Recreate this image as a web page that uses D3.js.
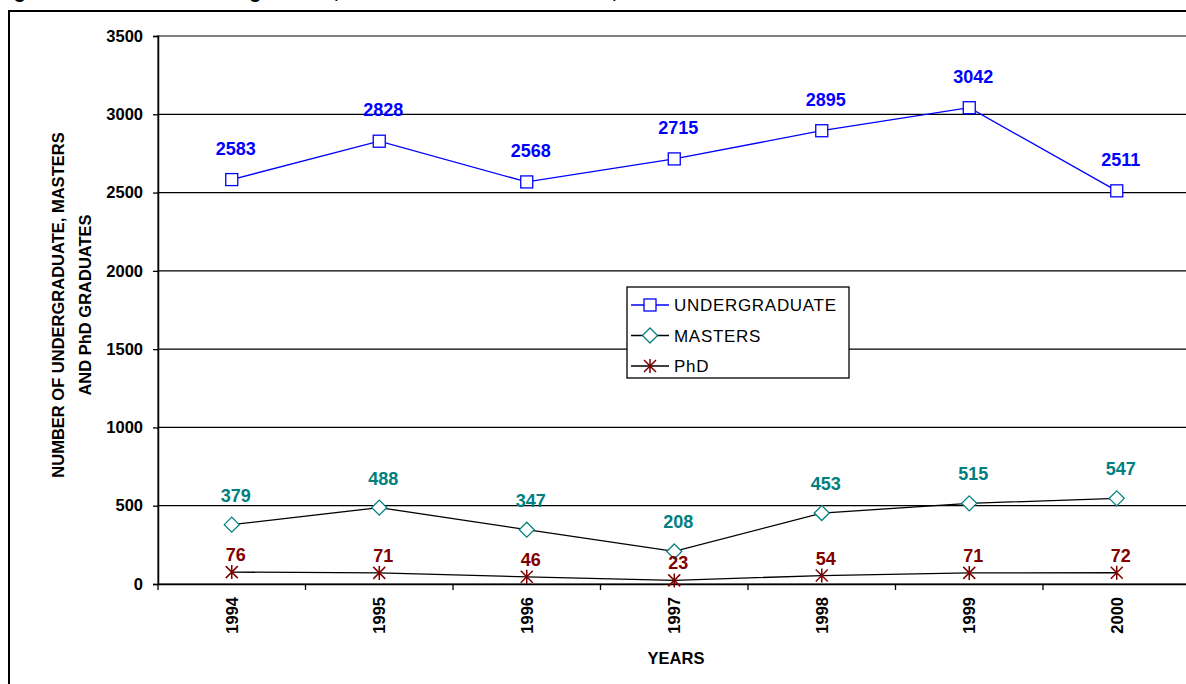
<!DOCTYPE html>
<html>
<head>
<meta charset="utf-8">
<script src="https://cdn.jsdelivr.net/npm/d3@7"></script>
<style>
  html, body { margin: 0; padding: 0; background: #fff; overflow: hidden; }
  svg { display: block; font-family: "Liberation Sans", Arial, sans-serif; }
</style>
</head>
<body>
<div id="chart"></div>
<script>
var years = ['1994', '1995', '1996', '1997', '1998', '1999', '2000'];
var undergrad = [2583, 2828, 2568, 2715, 2895, 3042, 2511];
var masters = [379, 488, 347, 208, 453, 515, 547];
var phd = [76, 71, 46, 23, 54, 71, 72];
var yTicks = [0, 500, 1000, 1500, 2000, 2500, 3000, 3500];

var W = 1186, H = 684;
var plot = {left: 158, right: 1190.5, top: 36, bottom: 584};
var FONT = '"Liberation Sans", Arial, sans-serif';

var svg = d3.select('#chart')
    .append('svg')
    .attr('width', W)
    .attr('height', H);

// title, mostly above the visible area as in the source
svg.append('text')
    .attr('x', -4)
    .attr('y', -2)
    .attr('font-size', 20)
    .attr('font-weight', 'bold')
    .text('Figure 2: Number of Undergraduate, Masters and PhD Graduates, 1994 - 2000');

// outer frame
svg.append('rect')
    .attr('x', 9).attr('y', 11)
    .attr('width', W + 20).attr('height', H + 20)
    .attr('fill', 'none')
    .attr('stroke', '#000')
    .attr('stroke-width', 2);

var x = d3.scaleBand()
    .domain(years)
    .range([plot.left, plot.right])
    .padding(0);
var cx = function(d) { return x(d) + x.bandwidth() / 2; };

var y = d3.scaleLinear()
    .domain([0, 3500])
    .range([plot.bottom, plot.top]);

// gridlines
svg.append('g')
  .selectAll('line')
  .data(yTicks.filter(function(t) { return t > 0 && t < 3500; }))
  .enter().append('line')
    .attr('x1', plot.left).attr('x2', plot.right)
    .attr('y1', function(d) { return y(d); })
    .attr('y2', function(d) { return y(d); })
    .attr('stroke', '#000')
    .attr('stroke-width', 1.3);

// plot area border (gray)
svg.append('rect')
    .attr('x', plot.left).attr('y', plot.top)
    .attr('width', plot.right - plot.left)
    .attr('height', plot.bottom - plot.top)
    .attr('fill', 'none')
    .attr('stroke', '#808080')
    .attr('stroke-width', 2);

// y axis
var yAxis = svg.append('g')
    .attr('transform', 'translate(' + plot.left + ',0)')
    .call(d3.axisLeft(y).tickValues(yTicks).tickFormat(d3.format('d')).tickSize(5).tickPadding(10));
yAxis.select('.domain').attr('stroke', '#000').attr('stroke-width', 1.5);
yAxis.selectAll('.tick line').attr('stroke', '#000').attr('stroke-width', 1.3);
yAxis.selectAll('.tick text')
    .attr('fill', '#000')
    .attr('font-size', 16.5)
    .attr('font-weight', 'bold')
    .attr('font-family', FONT);

// x axis
var xAxis = svg.append('g')
    .attr('transform', 'translate(0,' + plot.bottom + ')')
    .call(d3.axisBottom(x).tickSize(0).tickSizeOuter(0));
xAxis.select('.domain').attr('stroke', '#000').attr('stroke-width', 1.5);
xAxis.selectAll('.tick line').remove();
xAxis.selectAll('.tick text')
    .attr('fill', '#000')
    .attr('font-size', 16.5)
    .attr('font-weight', 'bold')
    .attr('font-family', FONT)
    .attr('text-anchor', 'end')
    .attr('dy', null)
    .attr('y', 0)
    .attr('transform', 'translate(6,13) rotate(-90)');

// tick marks between categories
var bounds = years.map(function(d) { return x(d); }).concat([plot.right]);
svg.append('g')
  .selectAll('line')
  .data(bounds)
  .enter().append('line')
    .attr('x1', function(d) { return d; })
    .attr('x2', function(d) { return d; })
    .attr('y1', plot.bottom)
    .attr('y2', plot.bottom + 6)
    .attr('stroke', '#000')
    .attr('stroke-width', 1.3);

// axis titles
svg.append('text')
    .attr('x', 676).attr('y', 664)
    .attr('text-anchor', 'middle')
    .attr('font-size', 16.5)
    .attr('font-weight', 'bold')
    .text('YEARS');

var yt = svg.append('text')
    .attr('transform', 'translate(64,305) rotate(-90)')
    .attr('text-anchor', 'middle')
    .attr('font-size', 16.5)
    .attr('font-weight', 'bold');
yt.append('tspan').attr('x', 0).attr('y', 0).text('NUMBER OF UNDERGRADUATE, MASTERS');
yt.append('tspan').attr('x', 0).attr('y', 27).text('AND PhD GRADUATES');

// series
var series = [
  {name: 'UNDERGRADUATE', values: undergrad, line: '#0000ff', mark: '#0000ff', label: '#0000ff', shape: 'square', off: 25},
  {name: 'MASTERS', values: masters, line: '#000000', mark: '#008080', label: '#008080', shape: 'diamond', off: 23},
  {name: 'PhD', values: phd, line: '#000000', mark: '#800000', label: '#800000', shape: 'star', off: 11}
];

var drawMarker = function(g, shape, color) {
  if (shape === 'square') {
    g.append('rect')
        .attr('x', -6).attr('y', -6)
        .attr('width', 12).attr('height', 12)
        .attr('fill', '#fff')
        .attr('stroke', color)
        .attr('stroke-width', 1.3);
  } else if (shape === 'diamond') {
    g.append('path')
        .attr('d', 'M0,-7.5L7.5,0L0,7.5L-7.5,0Z')
        .attr('fill', '#fff')
        .attr('stroke', color)
        .attr('stroke-width', 1.3);
  } else {
    g.append('path')
        .attr('d', 'M-6,-6L6,6M-6,6L6,-6M0,-7L0,7')
        .attr('stroke', color)
        .attr('stroke-width', 1.5);
  }
};

var line = d3.line()
    .x(function(d, i) { return cx(years[i]); })
    .y(function(d) { return y(d); });

series.forEach(function(s) {
  svg.append('path')
      .datum(s.values)
      .attr('d', line)
      .attr('fill', 'none')
      .attr('stroke', s.line)
      .attr('stroke-width', 1.3);

  s.values.forEach(function(v, i) {
    var g = svg.append('g')
        .attr('transform', 'translate(' + cx(years[i]) + ',' + y(v) + ')');
    drawMarker(g, s.shape, s.mark);
  });

  svg.append('g')
    .selectAll('text')
    .data(s.values)
    .enter().append('text')
      .attr('x', function(d, i) { return cx(years[i]) + 4; })
      .attr('y', function(d) { return y(d) - s.off; })
      .attr('text-anchor', 'middle')
      .attr('font-size', 18)
      .attr('font-weight', 'bold')
      .attr('fill', s.label)
      .text(function(d) { return d; });
});

// legend
var legend = svg.append('g').attr('transform', 'translate(627,287)');
legend.append('rect')
    .attr('width', 222).attr('height', 91)
    .attr('fill', '#fff')
    .attr('stroke', '#000')
    .attr('stroke-width', 1.3);
series.forEach(function(s, i) {
  var ly = 18 + i * 30.5;
  legend.append('line')
      .attr('x1', 4).attr('x2', 42)
      .attr('y1', ly).attr('y2', ly)
      .attr('stroke', s.line)
      .attr('stroke-width', 1.3);
  var g = legend.append('g').attr('transform', 'translate(23,' + ly + ')');
  drawMarker(g, s.shape, s.mark);
  legend.append('text')
      .attr('x', 47).attr('y', ly + 6)
      .attr('font-size', 17)
      .attr('letter-spacing', 0.7)
      .attr('fill', '#000')
      .text(s.name);
});
</script>
</body>
</html>
